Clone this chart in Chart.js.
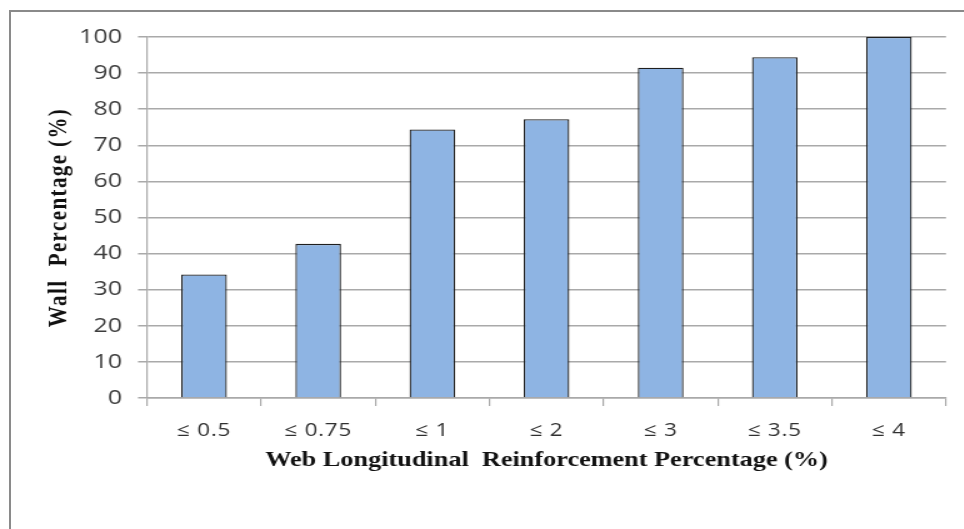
<!DOCTYPE html>
<html>
<head>
<meta charset="utf-8">
<script src="https://cdn.jsdelivr.net/npm/chart.js@4/dist/chart.umd.min.js"></script>
<style>
  html, body { margin: 0; padding: 0; background: #fff; }
  #wrap { position: relative; width: 964px; height: 529px; overflow: hidden; }
  #frame {
    position: absolute; left: 9px; top: 10px; width: 1000px; height: 600px;
    border-left: 2px solid #8a8a8a; border-top: 2px solid #8a8a8a;
  }
  /* the drawing is laid out narrow and widened, which gives the broad lettering */
  #chart { position: absolute; left: 0; top: 0; transform: scaleX(1.25); transform-origin: 0 0; }
</style>
</head>
<body>
<div id="wrap">
  <div id="frame"></div>
  <canvas id="chart" width="771" height="529"></canvas>
</div>
<script>
// Share of walls at or below each web longitudinal reinforcement ratio
const categories = ['≤ 0.5', '≤ 0.75', '≤ 1', '≤ 2', '≤ 3', '≤ 3.5', '≤ 4'];
const wallPercentage = [34.2, 42.7, 74.4, 77.2, 91.5, 94.4, 100];
const yMin = 0;
const yMax = 100;
const yStep = 10;

const xTitle = 'Web Longitudinal  Reinforcement Percentage (%)';
const yTitle = 'Wall  Percentage (%)';

const gridGrey = '#a9a9a9';
const serif = '"Liberation Serif", "Times New Roman", serif';
const sans = '"Open Sans", sans-serif';

// per-text letter spacing: the rotated axis title and the category labels run a bit wider
const spacing = {
  id: 'spacing',
  afterInit(chart) {
    const ctx = chart.ctx;
    const fill = ctx.fillText.bind(ctx);
    ctx.fillText = function (text, x, y, maxWidth) {
      const rotated = ctx.getTransform().b !== 0;
      if (ctx.font.indexOf('Liberation Serif') >= 0) {
        ctx.letterSpacing = rotated ? '1.4px' : '0px';
      } else if (ctx.font.indexOf('18px') >= 0) {
        ctx.letterSpacing = '0.6px';
      } else {
        ctx.letterSpacing = '0px';
      }
      return maxWidth === undefined ? fill(text, x, y) : fill(text, x, y, maxWidth);
    };
  }
};

new Chart(document.getElementById('chart'), {
  type: 'bar',
  data: {
    labels: categories,
    datasets: [{
      data: wallPercentage,
      backgroundColor: '#8eb4e3',
      borderColor: '#1f1f1f',
      borderWidth: 1.3,
      barPercentage: 0.8,
      categoryPercentage: 0.5
    }]
  },
  options: {
    responsive: false,
    animation: false,
    devicePixelRatio: 1,
    layout: { padding: { left: 0, top: 37, right: 14.2, bottom: 0 } },
    plugins: {
      legend: { display: false },
      tooltip: { enabled: false }
    },
    scales: {
      x: {
        grid: {
          offset: true,
          drawOnChartArea: false,
          drawTicks: true,
          tickLength: 8,
          color: gridGrey,
          lineWidth: 1.2
        },
        border: { display: true, color: gridGrey, width: 1.5 },
        ticks: {
          color: '#303030',
          padding: 14,
          font: { family: sans, size: 18 }
        },
        title: {
          display: true,
          text: xTitle,
          color: '#111',
          padding: { top: 0, bottom: 56 },
          font: { family: serif, size: 21, weight: 'bold' }
        },
        afterFit(scale) { scale.height = 131; }
      },
      y: {
        min: yMin,
        max: yMax,
        ticks: {
          stepSize: yStep,
          color: '#3c3c3c',
          padding: 12.8,
          font: { family: sans, size: 20 }
        },
        grid: {
          color: gridGrey,
          lineWidth: 1.5,
          drawTicks: true,
          tickLength: 7.2
        },
        border: { display: true, color: gridGrey, width: 1.2 },
        title: {
          display: true,
          text: yTitle,
          color: '#111',
          padding: { top: 35, bottom: 0 },
          font: { family: serif, size: 21, weight: 'bold' }
        },
        afterFit(scale) { scale.width = 117.6; }
      }
    }
  },
  plugins: [spacing]
});
</script>
</body>
</html>
